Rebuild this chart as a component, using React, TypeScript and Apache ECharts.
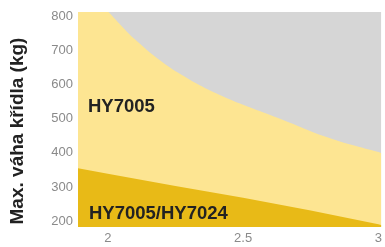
import React, { useEffect, useRef } from "react";
import * as echarts from "echarts";

const xTicks = [2, 2.5, 3];
const yTicks = [200, 300, 400, 500, 600, 700, 800];
const hy7005X = [1.89, 1.95, 2.0, 2.05, 2.1, 2.2, 2.3, 2.4, 2.5, 2.6, 2.7, 2.8, 2.9, 3.0, 3.01];
const hy7005Y = [885, 850, 812, 770, 730, 664, 613, 572, 538, 508, 477, 446, 421, 400, 397];
const hy7024X = [1.89, 2.0, 2.25, 2.5, 2.75, 3.0, 3.01];
const hy7024Y = [352, 336, 300, 266, 228, 188, 186];
const yTitle = "Max. váha křídla (kg)";
const labelA = "HY7005";
const labelB = "HY7005/HY7024";

export default function App() {
  const ref = useRef<HTMLDivElement>(null);
  useEffect(() => {
    const chart = echarts.init(ref.current!, null, { renderer: "svg" });
    const lbl = { color: "#8a8a8a", fontSize: 13, fontFamily: "Liberation Sans, Arial" };
    chart.setOption({
      animation: false,
      grid: { left: 78, right: 0, top: 12, bottom: 20, show: true, backgroundColor: "#d6d6d6", borderWidth: 0 },
      xAxis: {
        type: "value", min: 1.89, max: 3.01,
        axisLine: { show: false }, axisTick: { show: false }, splitLine: { show: false },
        axisLabel: { ...lbl, customValues: xTicks, margin: 4 },
      },
      yAxis: {
        type: "value", min: 180, max: 810,
        axisLine: { show: false }, axisTick: { show: false }, splitLine: { show: false },
        axisLabel: { ...lbl, customValues: yTicks, margin: 5 },
      },
      series: [
        {
          type: "line", smooth: 0.4, symbol: "none", lineStyle: { width: 0 },
          areaStyle: { color: "#fde592", opacity: 1 },
          data: hy7005X.map((x, i) => [x, hy7005Y[i]]),
        },
        {
          type: "line", symbol: "none", lineStyle: { width: 0 },
          areaStyle: { color: "#e8ba17", opacity: 1 },
          data: hy7024X.map((x, i) => [x, hy7024Y[i]]),
        },
      ],
      graphic: [
        {
          type: "text", x: 16, y: 131, rotation: Math.PI / 2, z: 100,
          style: { text: yTitle, fill: "#222", fontSize: 19, fontWeight: "bold", fontFamily: "Liberation Sans, Arial", align: "center", verticalAlign: "middle" },
        },
        {
          type: "text", x: 88, y: 105, z: 100,
          style: { text: labelA, fill: "#222", fontSize: 18.5, fontWeight: "bold", fontFamily: "Liberation Sans, Arial", verticalAlign: "middle" },
        },
        {
          type: "text", x: 89, y: 212, z: 100,
          style: { text: labelB, fill: "#222", fontSize: 18.5, fontWeight: "bold", fontFamily: "Liberation Sans, Arial", verticalAlign: "middle" },
        },
      ],
    });
    return () => chart.dispose();
  }, []);
  return <div ref={ref} style={{ width: 385, height: 247, position: "fixed", left: 0, top: 0 }} />;
}
